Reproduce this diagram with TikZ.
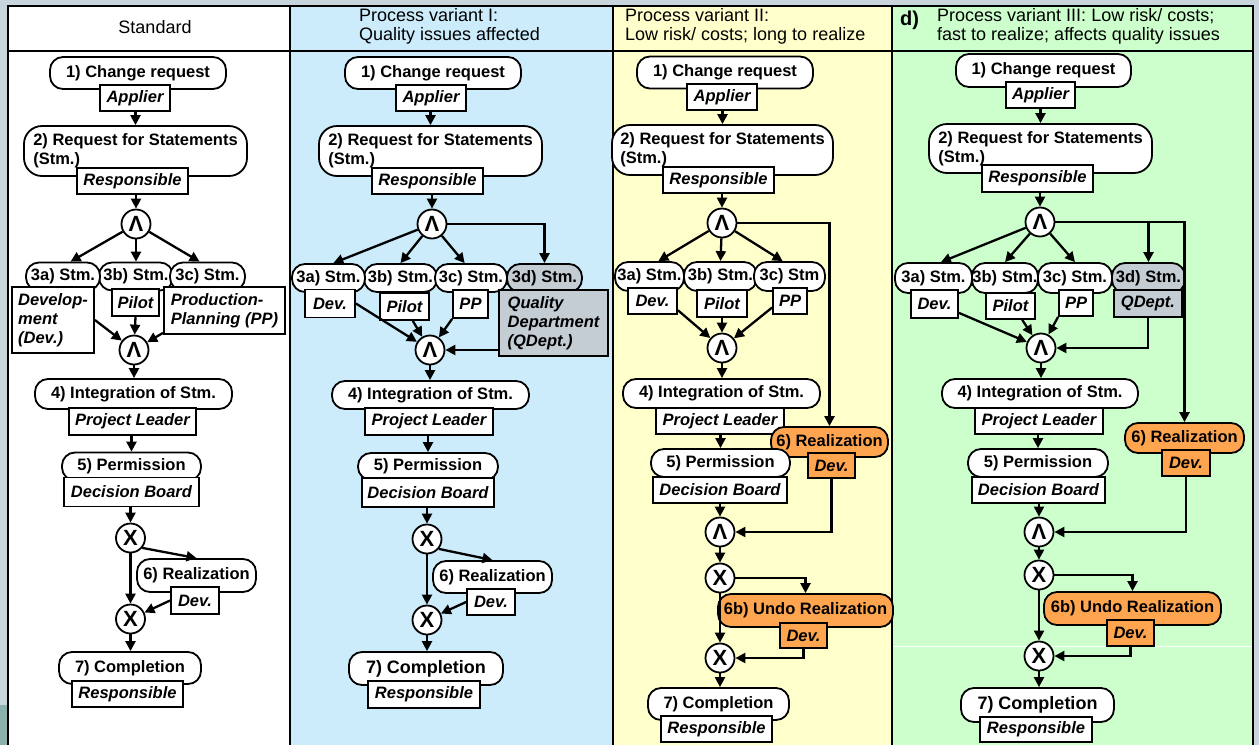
\documentclass[tikz,border=0pt]{standalone}
\usepackage{fontspec}
\setmainfont{Liberation Sans}
\usetikzlibrary{arrows.meta}
\definecolor{slidegray}{HTML}{C9D5DD}
\definecolor{slideteal}{HTML}{8CB0AC}
\definecolor{laneblue}{HTML}{CCEBFB}
\definecolor{laneyellow}{HTML}{FFFFCC}
\definecolor{lanegreen}{HTML}{CCFFCC}
\definecolor{realorange}{HTML}{FFA54F}
\definecolor{qdgray}{HTML}{C4CCD4}

\begin{document}
\begin{tikzpicture}[x=1pt, y=-1pt, >={Triangle[length=10pt, width=10pt]},
  task/.style={draw, fill=white, line width=1.8pt, rounded corners=13pt, inner sep=0pt,
    minimum height=30pt, font=\fontsize{16.5}{19}\selectfont\bfseries},
  role/.style={draw, fill=white, line width=1.8pt, inner xsep=3pt, inner ysep=0pt,
    minimum height=26pt, font=\fontsize{16.5}{19}\selectfont\bfseries\itshape},
  gate/.style={circle, draw, fill=white, line width=1.8pt, inner sep=0pt, minimum size=29pt,
    font=\fontsize{22}{22}\selectfont\bfseries},
  flow/.style={->, line width=2.3pt},
  hot/.style={fill=realorange},
  qual/.style={fill=qdgray},
  big/.style={font=\fontsize{18}{20}\selectfont\bfseries},
  head/.style={inner sep=0pt, align=left, font=\fontsize{18}{19.5}\selectfont}]
  \useasboundingbox (0,0) rectangle (1259,745);
  % slide behind the table
  \fill[slidegray] (0,0) rectangle (1259,745);
  \fill[slideteal] (0,705) rectangle (8,745);
  % the four lanes
  \fill[white] (8,6) rectangle (290,745);
  \fill[laneblue] (290,6) rectangle (613,745);
  \fill[laneyellow] (613,6) rectangle (892,745);
  \fill[lanegreen] (892,6) rectangle (1253,745);
  \draw[white, line width=0.8pt] (893,646) -- (1252,646);
  \draw[line width=2pt] (8,745) |- (1253,6) -- (1253,745);
  \draw[line width=2pt] (8,51) -- (1253,51);
  \foreach \x in {290,613,892} \draw[line width=2pt] (\x,6) -- (\x,745);

  % headers
  \node[head] (hstd) at (155,27) {Standard};
  \node[head, anchor=west] (hone) at (359,26.5) {Process variant I:\\Quality issues affected};
  \node[head, anchor=west] (htwo) at (625,26.5) {Process variant II:\\Low risk/ costs; long to realize};
  \node[font=\fontsize{20}{20}\selectfont\bfseries, inner sep=0pt] (hd) at (909.5,20) {d)};
  \node[head, anchor=west] (hthree) at (937,26.5) {Process variant III: Low risk/ costs;\\fast to realize; affects quality issues};

  % ---- Standard ----
  \node[task, minimum width=176, minimum height=32] (s1) at (138,73) {1) Change request};
  \node[role, minimum width=70] (s1r) at (135,98) {Applier};
  \node[task, rounded corners=18pt, minimum width=223, minimum height=50, align=left] (s2) at (135.5,151) {2) Request for Statements\\(Stm.)};
  \node[role, minimum width=111] (s2r) at (132.5,181) {Responsible};
  \node[gate] (sa1) at (136,224) {Λ};
  \node[task, minimum width=74, minimum height=28] (s3b) at (136,276.5) {3b) Stm.};
  \node[task, minimum width=74, minimum height=28] (s3a) at (63,276.5) {3a) Stm.};
  \node[task, minimum width=75, minimum height=28] (s3c) at (207.5,276.5) {3c) Stm.};
  \node[role, minimum width=82, minimum height=66, align=left] (s3ar) at (53,320) {Develop-\\ment\\(Dev.)};
  \node[role, minimum width=47, minimum height=27] (s3br) at (135.5,302.5) {Pilot};
  \node[role, minimum width=121, minimum height=47, align=left] (s3cr) at (224.5,310.5) {Production-\\Planning (PP)};
  \node[gate] (sa2) at (134,350) {Λ};
  \node[task, minimum width=197] (s4) at (133.5,394) {4) Integration of Stm.};
  \node[role, minimum width=127, minimum height=27] (s4r) at (132.5,421.5) {Project Leader};
  \node[task, minimum width=139, minimum height=28] (s5) at (131.5,466.5) {5) Permission};
  \node[role, minimum width=135, minimum height=29] (s5r) at (131.5,492) {Decision Board};
  \node[gate] (sx1) at (130.5,538) {X};
  \node[task, minimum width=119, minimum height=33] (s6) at (196.5,575.5) {6) Realization};
  \node[role, minimum width=48, minimum height=27] (s6r) at (195,600.5) {Dev.};
  \node[gate] (sx2) at (130.5,619) {X};
  \node[task, minimum width=142, minimum height=32] (s7) at (130,668) {7) Completion};
  \node[role, minimum width=111] (s7r) at (127.5,694) {Responsible};

  \draw[flow] (s2.north |- s1r.south) -- (s2.north);
  \draw[flow] (sa1.north |- s2r.south) -- (sa1.north);
  \draw[flow] (sa1) -- (s3a.63);
  \draw[flow] (sa1) -- (s3b.north);
  \draw[flow] (sa1) -- (s3c.118);
  \draw[flow] (s3ar.east) -- (sa2);
  \draw[flow] (s3br.south) -- (sa2);
  \draw[flow] (s3cr.200) -- (sa2);
  \draw[flow] (sa2.south) -- (sa2.south |- s4.north);
  \draw[flow] (s5.north |- s4r.south) -- (s5.north);
  \draw[flow] (sx1.north |- s5r.south) -- (sx1.north);
  \draw[flow] (sx1.-40) -- (s6.north);
  \draw[flow] (sx1.south) -- (sx2.north);
  \draw[flow] (s6r.west) -- (sx2.25);
  \draw[flow] (sx2.south) -- (sx2.south |- s7.north);

  % ---- Process variant I ----
  \node[task, minimum width=176, minimum height=32] (v1) at (433,73) {1) Change request};
  \node[role, minimum width=70] (v1r) at (431,98) {Applier};
  \node[task, rounded corners=18pt, minimum width=223, minimum height=50, align=left] (v2) at (430.5,151) {2) Request for Statements\\(Stm.)};
  \node[role, minimum width=111] (v2r) at (427.5,181) {Responsible};
  \node[gate] (va1) at (432,224) {Λ};
  \node[task, minimum width=73, minimum height=28] (v3b) at (400.5,278) {3b) Stm.};
  \node[task, minimum width=73, minimum height=28] (v3a) at (328.5,278) {3a) Stm.};
  \node[task, minimum width=72, minimum height=28] (v3c) at (471,278) {3c) Stm.};
  \node[task, qual, minimum width=75, minimum height=28] (v3d) at (544.5,278) {3d) Stm.};
  \node[role, minimum width=50, minimum height=28] (v3ar) at (330,303.5) {Dev.};
  \node[role, minimum width=49, minimum height=27] (v3br) at (404.5,306.5) {Pilot};
  \node[role, minimum width=35, minimum height=28] (v3cr) at (470.5,304) {PP};
  \node[role, qual, minimum width=109, minimum height=66, align=left] (v3dr) at (553.5,323) {Quality\\Department\\(QDept.)};
  \node[gate] (va2) at (430,350) {Λ};
  \node[task, minimum width=197, minimum height=28] (v4) at (430.5,395) {4) Integration of Stm.};
  \node[role, minimum width=128, minimum height=27] (v4r) at (429,421.5) {Project Leader};
  \node[task, minimum width=140, minimum height=27] (v5) at (428,466.5) {5) Permission};
  \node[role, minimum width=132, minimum height=29] (v5r) at (428,492.5) {Decision Board};
  \node[gate] (vx1) at (427,539) {X};
  \node[task, minimum width=119, minimum height=32] (v6) at (492.5,577) {6) Realization};
  \node[role, minimum width=48] (v6r) at (491,602) {Dev.};
  \node[gate] (vx2) at (427,620) {X};
  \node[task, big, minimum width=154, minimum height=33] (v7) at (426,668.5) {7) Completion};
  \node[role, minimum width=112, minimum height=27] (v7r) at (424,694.5) {Responsible};

  \draw[flow] (v2.north |- v1r.south) -- (v2.north);
  \draw[flow] (va1.north |- v2r.south) -- (va1.north);
  \draw[flow] (va1) -- (v3a.72);
  \draw[flow] (va1) -- (v3b.north);
  \draw[flow] (va1) -- (v3c.113);
  \draw[flow] (va1.east) -| (v3d.north);
  \draw[flow] (v3ar.east) -- (va2);
  \draw[flow] (v3br.-60) -- (va2);
  \draw[flow] (v3cr.south west) -- (va2);
  \draw[flow] (v3dr.west |- va2) -- (va2.east);
  \draw[flow] (va2.south) -- (va2.south |- v4.north);
  \draw[flow] (v5.north |- v4r.south) -- (v5.north);
  \draw[flow] (vx1.north |- v5r.south) -- (vx1.north);
  \draw[flow] (vx1.-40) -- (v6.north);
  \draw[flow] (vx1.south) -- (vx2.north);
  \draw[flow] (v6r.west) -- (vx2.25);
  \draw[flow] (vx2.south) -- (vx2.south |- v7.north);

  % ---- Process variant II ----
  \node[task, minimum width=176, minimum height=32] (w1) at (725,72.5) {1) Change request};
  \node[role, minimum width=70] (w1r) at (722,97) {Applier};
  \node[task, rounded corners=18pt, minimum width=221, minimum height=50, align=left] (w2) at (722.5,150) {2) Request for Statements\\(Stm.)};
  \node[role, minimum width=111] (w2r) at (718.5,180) {Responsible};
  \node[gate] (wa1) at (722,223) {Λ};
  \node[task, minimum width=73, minimum height=29] (w3b) at (720.5,276.5) {3b) Stm.};
  \node[task, minimum width=69, minimum height=29] (w3a) at (649.5,276.5) {3a) Stm.};
  \node[task, minimum width=71, minimum height=29] (w3c) at (789.5,276.5) {3c) Stm};
  \node[role, minimum width=49] (w3ar) at (652.5,301) {Dev.};
  \node[role, minimum width=50, minimum height=27] (w3br) at (722,303.5) {Pilot};
  \node[role, minimum width=34] (w3cr) at (790,301) {PP};
  \node[gate] (wa2) at (722,348) {Λ};
  \node[task, minimum width=197, minimum height=29] (w4) at (721.5,393.5) {4) Integration of Stm.};
  \node[role, minimum width=128] (w4r) at (720,421) {Project Leader};
  \node[task, hot, minimum width=117] (w6) at (829.5,442) {6) Realization};
  \node[role, hot, minimum width=47, minimum height=25] (w6r) at (831.5,465.5) {Dev.};
  \node[task, minimum width=139, minimum height=28] (w5) at (720.5,463) {5) Permission};
  \node[role, minimum width=134] (w5r) at (720,490) {Decision Board};
  \node[gate] (wa3) at (720,532) {Λ};
  \node[gate] (wx1) at (720,578) {X};
  \node[task, hot, minimum width=175, minimum height=33] (w6b) at (805.5,610.5) {6b) Undo Realization};
  \node[role, hot, minimum width=47, minimum height=25] (w6br) at (803.5,635.5) {Dev.};
  \node[gate] (wx2) at (720,658) {X};
  \node[task, minimum width=141, minimum height=32] (w7) at (718.5,704) {7) Completion};
  \node[role, minimum width=111] (w7r) at (716.5,729) {Responsible};

  \draw[flow] (w2.north |- w1r.south) -- (w2.north);
  \draw[flow] (wa1.north |- w2r.south) -- (wa1.north);
  \draw[flow] (wa1) -- (w3a.60);
  \draw[flow] (wa1) -- (w3b.north);
  \draw[flow] (wa1) -- (w3c.114);
  \draw[flow] (wa1.east) -| (w6.north);
  \draw[flow] (w3ar.-20) -- (wa2);
  \draw[flow] (w3br.south) -- (wa2.north);
  \draw[flow] (w3cr.200) -- (wa2);
  \draw[flow] (wa2.south) -- (wa2.south |- w4.north);
  \draw[flow] (w5.north |- w4r.south) -- (w5.north);
  \draw[flow] (wa3.north |- w5r.south) -- (wa3.north);
  \draw[flow] (w6r.south) |- (wa3.east);
  \draw[flow] (wa3.south) -- (wx1.north);
  \draw[flow] (wx1.east) -| (w6b.north);
  \draw[flow] (wx1.south) -- (wx2.north);
  \draw[flow] (w6br.south) |- (wx2.east);
  \draw[flow] (wx2.south) -- (wx2.south |- w7.north);

  % ---- Process variant III ----
  \node[task, minimum width=175, minimum height=33] (g1) at (1043.5,70.5) {1) Change request};
  \node[role, minimum width=69] (g1r) at (1040.5,95) {Applier};
  \node[task, rounded corners=18pt, minimum width=223, minimum height=49, align=left] (g2) at (1040.5,148.5) {2) Request for Statements\\(Stm.)};
  \node[role, minimum width=111, minimum height=27] (g2r) at (1037.5,178.5) {Responsible};
  \node[gate] (ga1) at (1040,222) {Λ};
  \node[task, minimum width=66, minimum height=30] (g3b) at (1005,278) {3b) Stm.};
  \node[task, minimum width=77, minimum height=30] (g3a) at (933.5,278) {3a) Stm.};
  \node[task, minimum width=74, minimum height=30] (g3c) at (1075,278) {3c) Stm.};
  \node[task, qual, minimum width=73, minimum height=30] (g3d) at (1148.5,278) {3d) Stm.};
  \node[role, minimum width=47, minimum height=28] (g3ar) at (934.5,304) {Dev.};
  \node[role, minimum width=49] (g3br) at (1010.5,306) {Pilot};
  \node[role, minimum width=34] (g3cr) at (1076,303) {PP};
  \node[role, qual, minimum width=68, minimum height=27] (g3dr) at (1148,303.5) {QDept.};
  \node[gate] (ga2) at (1041,348) {Λ};
  \node[task, minimum width=196, minimum height=29] (g4) at (1040,393.5) {4) Integration of Stm.};
  \node[role, minimum width=128] (g4r) at (1039,421) {Project Leader};
  \node[task, hot, minimum width=119] (g6) at (1184.5,438) {6) Realization};
  \node[role, hot, minimum width=48] (g6r) at (1186,463) {Dev.};
  \node[task, minimum width=140, minimum height=28] (g5) at (1038,463) {5) Permission};
  \node[role, minimum width=133] (g5r) at (1038.5,490) {Decision Board};
  \node[gate] (ga3) at (1039,532) {Λ};
  \node[gate] (gx1) at (1039,575) {X};
  \node[task, hot, minimum width=177, minimum height=33] (g6b) at (1132.5,608.5) {6b) Undo Realization};
  \node[role, hot, minimum width=47] (g6br) at (1130.5,633) {Dev.};
  \node[gate] (gx2) at (1039,656) {X};
  \node[task, big, minimum width=153, minimum height=34] (g7) at (1037.5,705) {7) Completion};
  \node[role, minimum width=112, minimum height=25] (g7r) at (1036,729.5) {Responsible};

  \draw[flow] (g2.north |- g1r.south) -- (g2.north);
  \draw[flow] (ga1.north |- g2r.south) -- (ga1.north);
  \draw[flow] (ga1) -- (g3a.65);
  \draw[flow] (ga1) -- (g3b.north);
  \draw[flow] (ga1) -- (g3c.north);
  \draw[flow] (ga1.east) -| (g3d.north);
  \draw[flow] (ga1.east) -| (g6.north);
  \draw[flow] (g3ar.-20) -- (ga2);
  \draw[flow] (g3br.-50) -- (ga2);
  \draw[flow] (g3cr.south west) -- (ga2);
  \draw[flow] (g3dr.south) |- (ga2.east);
  \draw[flow] (ga2.south) -- (ga2.south |- g4.north);
  \draw[flow] (g5.north |- g4r.south) -- (g5.north);
  \draw[flow] (ga3.north |- g5r.south) -- (ga3.north);
  \draw[flow] (g6r.south) |- (ga3.east);
  \draw[flow] (ga3.south) -- (gx1.north);
  \draw[flow] (gx1.east) -| (g6b.north);
  \draw[flow] (gx1.south) -- (gx2.north);
  \draw[flow] (g6br.south) |- (gx2.east);
  \draw[flow] (gx2.south) -- (gx2.south |- g7.north);
\end{tikzpicture}
\end{document}
